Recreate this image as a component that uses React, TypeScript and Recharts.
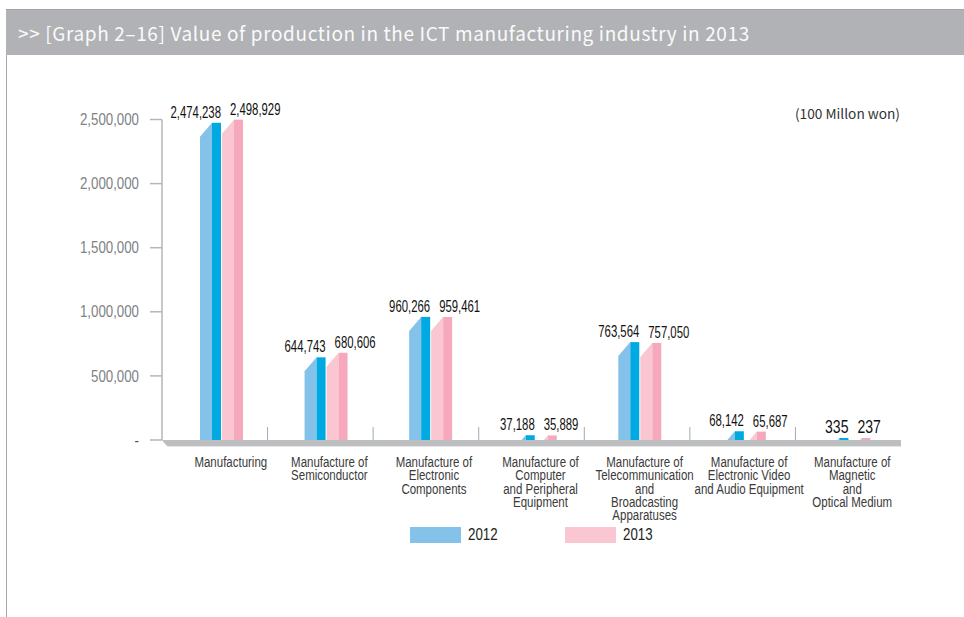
import { BarChart, Bar, XAxis, YAxis, LabelList, Legend, usePlotArea } from "recharts";

const categories = [
  "Manufacturing",
  "Manufacture of\nSemiconductor",
  "Manufacture of\nElectronic\nComponents",
  "Manufacture of\nComputer\nand Peripheral\nEquipment",
  "Manufacture of\nTelecommunication\nand\nBroadcasting\nApparatuses",
  "Manufacture of\nElectronic Video\nand Audio Equipment",
  "Manufacture of\nMagnetic\nand\nOptical Medium",
];
const values2012 = [2474238, 644743, 960266, 37188, 763564, 68142, 335];
const values2013 = [2498929, 680606, 959461, 35889, 757050, 65687, 237];
const yTicks = [0, 500000, 1000000, 1500000, 2000000, 2500000];
// labels don't sit quite centred under the bars in the original
const labelNudge = [9.5, 3.5, 3.5, 5.5, 5, 5, 3.5];

const data = categories.map((name, i) => ({
  name,
  y2012: values2012[i],
  y2013: values2013[i],
}));

const FONT = '"Liberation Sans", sans-serif';
const BLUE = "#85c2ea";
const BLUE_DARK = "#00a9e2";
const PINK = "#fac6d2";
const PINK_DARK = "#f6a9bc";
const AXIS_GREY = "#b4b6b8";

const makeBarShape = (dark: string) => (props: any) => {
  const { x, y, width, height, fill } = props;
  const lightW = (width * 12) / 21;
  const slant = Math.min(14, height);
  const startX = x + lightW * (1 - slant / 14);
  const bottom = y + height;
  return (
    <g>
      <polygon
        points={`${startX},${bottom} ${startX},${y + slant} ${x + lightW},${y} ${x + lightW},${bottom}`}
        fill={fill}
      />
      <rect x={x + lightW} y={y} width={width - lightW} height={height} fill={dark} />
    </g>
  );
};

const Floor = () => {
  const plot = usePlotArea();
  if (!plot) return null;
  const left = plot.x;
  const right = plot.x + plot.width;
  const top = plot.y + plot.height;
  return (
    <g>
      <polygon
        points={`${left},${top + 1} ${right},${top + 1} ${right},${top + 7} ${left + 6},${top + 7}`}
        fill="#e6e7e8"
      />
      <polygon
        points={`${left},${top} ${right},${top} ${right},${top + 6} ${left + 5},${top + 6}`}
        fill="#bcbec0"
      />
    </g>
  );
};

const CategoryTick = (props: any) => {
  const { x, y, payload, index } = props;
  const lines = String(payload.value).split("\n");
  const nudge = labelNudge[index] ?? 0;
  return (
    <text
      transform={`translate(${x + nudge} ${y}) scale(0.82 1)`}
      textAnchor="middle"
      fontFamily={FONT}
      fontSize={14}
      fill="#3a3a3a"
    >
      {lines.map((line, i) => (
        <tspan key={i} x={0} dy={i === 0 ? 19 : 13.3}>
          {line}
        </tspan>
      ))}
    </text>
  );
};

const ValueTick = (props: any) => {
  const { x, y, payload } = props;
  const v = payload.value;
  return (
    <text
      transform={`translate(${x} ${y}) scale(0.83 1)`}
      textAnchor="end"
      dy="0.355em"
      fontFamily={FONT}
      fontSize={16}
      fill={v === 0 ? "#555" : "#808285"}
    >
      {v === 0 ? "-" : v.toLocaleString("en-US")}
    </text>
  );
};

const BandDividers = () => {
  const plot = usePlotArea();
  if (!plot) return null;
  const step = plot.width / categories.length;
  const bottom = plot.y + plot.height;
  return (
    <g>
      {categories.slice(1).map((c, i) => {
        const x = plot.x + step * (i + 1);
        return <line key={c} x1={x} x2={x} y1={bottom - 13} y2={bottom} stroke="#a7a9ac" strokeWidth={1} />;
      })}
    </g>
  );
};

// the three digit labels are set a little larger in the original
const ValueLabel = (props: any) => {
  const { x, y, width, value, anchor } = props;
  const small = Number(value) < 1000;
  const px = anchor === "end" ? x + width : x + 8;
  return (
    <text
      transform={`translate(${px} ${y - 5}) scale(${small ? 0.78 : 0.71} 1)`}
      textAnchor={anchor}
      fontFamily={FONT}
      fontSize={small ? 18 : 16}
      fill="#111"
    >
      {Number(value).toLocaleString("en-US")}
    </text>
  );
};

const LegendContent = (props: any) => {
  const items = props.payload ?? [];
  return (
    <div style={{ position: "relative", height: 18 }}>
      {items.map((item: any, i: number) => (
        <div
          key={item.value}
          style={{ position: "absolute", left: i * 155, top: 0, display: "flex", alignItems: "center" }}
        >
          <span style={{ display: "block", width: 51, height: 16, background: item.color, marginRight: 7 }} />
          <span
            style={{
              display: "block",
              fontFamily: FONT,
              fontSize: 16,
              color: "#222",
              lineHeight: "16px",
              transform: "scaleX(0.83)",
              transformOrigin: "left",
            }}
          >
            {item.value}
          </span>
        </div>
      ))}
    </div>
  );
};

export default function App() {
  return (
    <div style={{ position: "absolute", left: 0, top: 0, width: 964, height: 617, background: "#fff", overflow: "hidden" }}>
      <div style={{ position: "absolute", left: 6, top: 10, width: 1, height: 607, background: "#a5a6a8" }} />
      <div
        style={{
          position: "absolute",
          left: 6,
          top: 9,
          width: 958,
          height: 46,
          background: "#b1b2b6",
          borderTop: "1px solid #a3a4a7",
          boxSizing: "border-box",
          color: "#fafafa",
          fontFamily: '"Noto Sans CJK KR", "Noto Sans", sans-serif',
          fontSize: 19,
          lineHeight: "46px",
          paddingLeft: 12,
          letterSpacing: 0.62,
          whiteSpace: "nowrap",
        }}
      >
        {">> [Graph 2–16] Value of production in the ICT manufacturing industry in 2013"}
      </div>
      <div
        style={{
          position: "absolute",
          right: 64,
          top: 104,
          fontFamily: '"Noto Sans CJK KR", "Noto Sans", sans-serif',
          fontSize: 13.7,
          color: "#333",
          lineHeight: "18px",
        }}
      >
        (100 Millon won)
      </div>
      <BarChart
        width={964}
        height={617}
        data={data}
        margin={{ top: 119.5, right: 63, bottom: 59, left: 82 }}
        barSize={21}
        barGap={1}
        style={{ position: "absolute", left: 0, top: 0 }}
      >
        <Floor />
        <BandDividers />
        <XAxis
          dataKey="name"
          height={100}
          interval={0}
          axisLine={false}
          tickLine={false}
          padding={{ left: 7, right: 0 }}
          tick={<CategoryTick />}
        />
        <YAxis
          width={80}
          domain={[0, 2500000]}
          ticks={yTicks}
          interval={0}
          tickSize={12}
          tickMargin={11}
          axisLine={{ stroke: AXIS_GREY, strokeWidth: 1.5 }}
          tickLine={{ stroke: AXIS_GREY, strokeWidth: 1.5 }}
          tick={<ValueTick />}
        />
        <Legend
          content={<LegendContent />}
          wrapperStyle={{ position: "absolute", left: 410, top: 527, width: 320, height: 18 }}
        />
        <Bar
          dataKey="y2012"
          name="2012"
          fill={BLUE}
          minPointSize={2}
          shape={makeBarShape(BLUE_DARK)}
          isAnimationActive={false}
        >
          <LabelList dataKey="y2012" content={<ValueLabel anchor="end" />} />
        </Bar>
        <Bar
          dataKey="y2013"
          name="2013"
          fill={PINK}
          minPointSize={2}
          shape={makeBarShape(PINK_DARK)}
          isAnimationActive={false}
        >
          <LabelList dataKey="y2013" content={<ValueLabel anchor="start" />} />
        </Bar>
      </BarChart>
    </div>
  );
}
